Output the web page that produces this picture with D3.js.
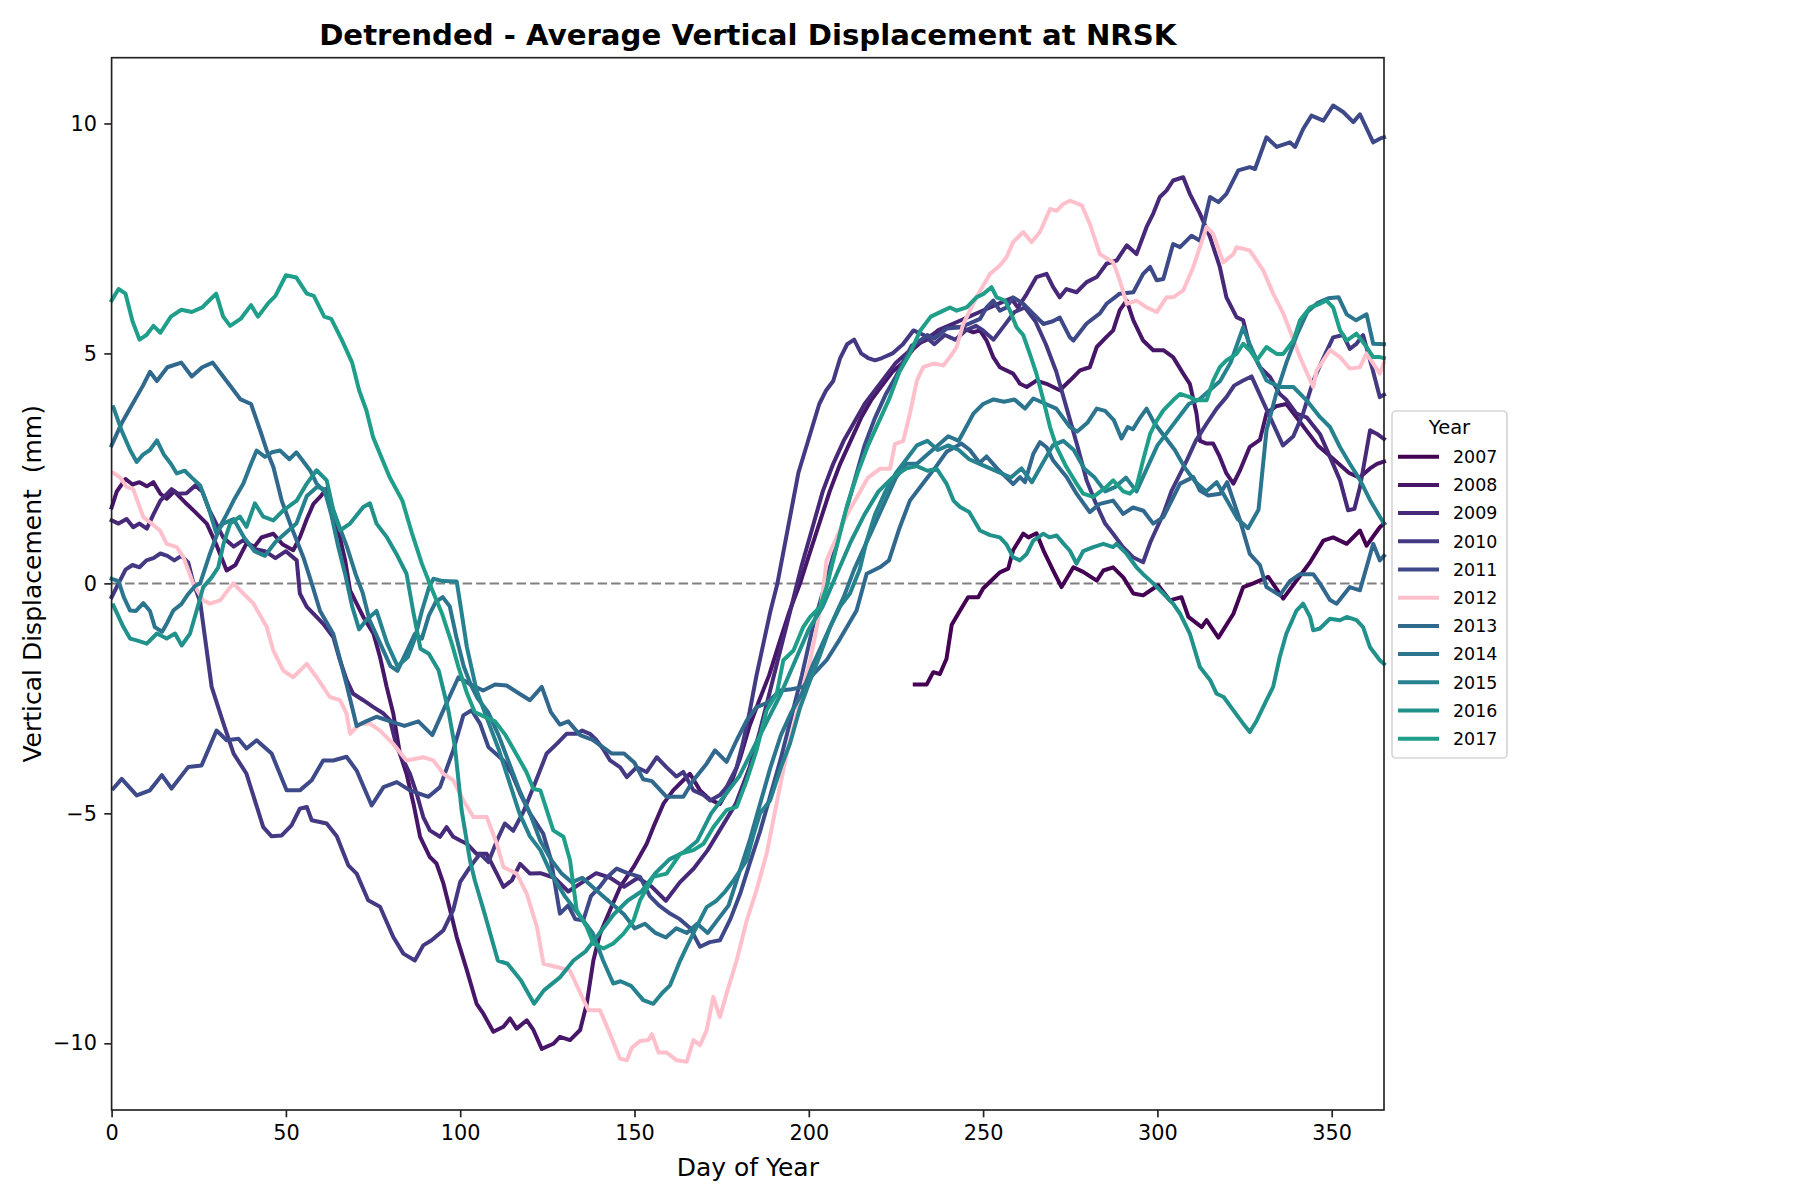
<!DOCTYPE html>
<html lang="en">
<head>
<meta charset="UTF-8">
<script src="https://cdn.jsdelivr.net/npm/d3@7"></script>
<title>Detrended - Average Vertical Displacement at NRSK</title>
<style>
    body { margin: 0; background: white; font-family: "DejaVu Sans", sans-serif; }
    svg { display: block; }
</style>
</head>
<body>
<script>
    // ---------------- data (day of year, mm) ----------------
    const years = ["2007", "2008", "2009", "2010", "2011", "2012", "2013", "2014", "2015", "2016", "2017"];

    const s2007 = [[230.4,-2.2],[233.8,-2.2],[235.7,-1.93],[237.6,-1.97],[239.5,-1.64],[241,-0.9],[243.4,-0.59],[245.7,-0.3],[248.6,-0.3],[250,-0.11],[252.9,0.1],[254.8,0.24],[257.2,0.32],[258.6,0.72],[261.5,1.08],[263,1.0],[265.3,1.09],[267.3,0.72],[270.1,0.28],[272.5,-0.08],[275.9,0.35],[278.7,0.25],[282.6,0.06],[284.5,0.28],[287.3,0.35],[290.2,0.13],[293.1,-0.22],[295.9,-0.26],[300.2,-0.04],[303.6,-0.37],[306.9,-0.3],[308.9,-0.73],[312.7,-0.95],[314.1,-0.8],[317.5,-1.18],[321.8,-0.66],[324.6,-0.08],[327.5,0.0],[331.8,0.14],[336.1,-0.33],[339.9,0.06],[343.8,0.46],[347.6,0.93],[350.4,1.0],[354.3,0.86],[358.1,1.15],[360,0.82],[363.8,1.22],[365,1.3]];

    const s2008 = [[0,1.65],[1.5,2.0],[4,2.27],[6,2.15],[8,2.2],[10.1,2.11],[12,2.2],[14,1.95],[15.8,1.84],[18,2.0],[21.5,1.73],[24,1.55],[27.3,1.3],[30,0.85],[33,0.28],[35.5,0.4],[38.7,0.87],[41,0.8],[43,1.0],[46.4,1.08],[49,0.85],[52.1,0.72],[54,1.0],[56,1.4],[57.9,1.73],[59.8,1.88],[61.7,2.06],[63.5,1.5],[65.5,1.0],[67,0.5],[68.4,-0.15],[70.3,-0.44],[72.2,-0.73],[75.1,-1.09],[77,-1.6],[78.9,-2.25],[80.8,-2.83],[82.7,-3.7],[84.6,-4.14],[86.6,-4.79],[88.5,-5.51],[91.3,-5.95],[93.2,-6.09],[95.2,-6.53],[97.1,-7.1],[99,-7.69],[101.9,-8.41],[104.7,-9.14],[106.6,-9.35],[109.5,-9.75],[112.4,-9.64],[114.3,-9.46],[116.2,-9.68],[119.1,-9.5],[121,-9.71],[123.4,-10.12],[126.7,-10.01],[128.6,-9.86],[131.5,-9.93],[134.4,-9.71],[136.3,-9.14],[138.2,-8.2],[140.1,-7.62],[143,-7.1],[145.9,-6.6],[149.7,-6.17],[153.5,-5.66],[155.4,-5.3],[158.3,-4.79],[161.1,-4.5],[164,-4.28],[165.9,-4.14],[168.8,-4.5],[171.6,-4.7],[174.5,-4.8],[177.4,-4.4],[180.3,-3.8],[183,-3.1],[186,-2.5],[188.6,-2.0],[191.5,-1.3],[194.5,-0.6],[197.5,0.0],[200,0.6],[203,1.3],[206,2.0],[209,2.6],[212,3.1],[215,3.6],[218,4.0],[221,4.3],[224,4.6],[227,4.8],[230,5.1],[233,5.3],[235.7,5.42],[239.5,5.57],[243.4,5.57],[247.2,5.46],[249.1,5.5],[251,5.28],[252.9,4.92],[254.8,4.7],[258.6,4.56],[260.6,4.34],[262.5,4.27],[265.3,4.41],[268.2,4.34],[272,4.2],[274.9,4.41],[277.8,4.63],[280.6,4.7],[282.6,5.14],[285.4,5.36],[287.3,5.5],[289.2,5.94],[291.2,6.15],[293.1,5.72],[295.9,5.28],[298.8,5.07],[301.7,5.07],[304.5,4.92],[307.4,4.56],[309.3,4.34],[311.2,3.7],[312.2,3.1],[314.1,3.04],[316,3.04],[317.9,2.75],[319.8,2.39],[321.8,2.17],[323.7,2.46],[326.5,2.97],[329.4,3.12],[331.3,3.7],[334,3.85],[337,3.9],[340,3.6],[343,3.3],[346,3.0],[349,2.8],[352,2.6],[355,2.4],[358,2.3],[361,2.5],[363,2.6],[365,2.65]];

    const s2009 = [[0,1.37],[2,1.3],[4.3,1.4],[6.2,1.22],[8,1.3],[10.1,1.19],[12,1.5],[14,1.8],[17.2,2.05],[19,1.95],[21.5,1.96],[24,2.13],[26,2.0],[28,1.6],[30,1.3],[32,1.0],[35,0.8],[38,0.95],[41,0.75],[44,0.7],[47,0.55],[50,0.7],[53.1,0.5],[54,-0.22],[56,-0.51],[58.8,-0.73],[60.7,-0.88],[63.6,-1.17],[65.5,-1.67],[67.4,-2.1],[69.3,-2.4],[72.2,-2.54],[75.1,-2.69],[78,-2.83],[79.9,-2.98],[81.8,-3.56],[83.7,-3.85],[85.6,-4.14],[87.5,-4.57],[89.4,-5.08],[91.3,-5.37],[94.2,-5.51],[96.1,-5.3],[98,-5.51],[100,-5.59],[101.9,-5.66],[104.7,-5.88],[107.6,-5.88],[110.5,-6.31],[112.4,-6.6],[114.8,-6.46],[117.2,-6.1],[120,-6.31],[123,-6.3],[127,-6.4],[131,-6.7],[135,-6.5],[139,-6.3],[143,-6.4],[147,-6.6],[151,-6.4],[155,-6.6],[159,-6.9],[163,-6.5],[167,-6.2],[171,-5.8],[175,-5.3],[179,-4.8],[183,-4.0],[186,-3.2],[189,-2.3],[192,-1.4],[195,-0.5],[198,0.4],[201,1.2],[204,2.0],[207,2.6],[210,3.1],[213,3.5],[216,3.9],[219,4.2],[222,4.5],[225,4.8],[228,5.0],[231,5.2],[234,5.3],[237,5.5],[240,5.6],[243,5.7],[246,5.8],[249,5.9],[252,6.0],[255,6.1],[258,6.2],[260,6.0],[262.5,6.29],[265.3,6.66],[268.2,6.73],[270.1,6.44],[272,6.22],[273.9,6.4],[276.8,6.33],[279.7,6.55],[282.6,6.66],[285.4,6.95],[288.3,7.02],[291.2,7.35],[294,7.16],[296.9,7.75],[298.8,8.04],[300.7,8.4],[302.6,8.54],[304.5,8.76],[307.4,8.83],[309.3,8.47],[312.2,8.04],[315.1,7.53],[317.9,6.88],[319.8,6.22],[322.7,5.79],[324.6,5.72],[326.5,5.14],[329.4,4.7],[332.3,4.49],[335.1,4.12],[337.1,3.98],[339.9,3.69],[342.8,3.61],[346.6,3.25],[349.5,2.75],[352.4,2.24],[354.7,1.59],[356.5,1.62],[358.1,2.09],[361,3.33],[363,3.25],[365,3.14]];

    const s2010 = [[0,-0.3],[2,0.0],[4,0.3],[6,0.4],[8,0.35],[10,0.5],[12,0.55],[14,0.65],[16,0.6],[18,0.5],[20,0.6],[22,0.45],[23.5,0.0],[25.4,-0.4],[28.7,-2.25],[32.1,-3.05],[35,-3.7],[38.7,-4.14],[43.5,-5.3],[45.9,-5.5],[48.8,-5.48],[51.6,-5.26],[54,-4.9],[56,-4.86],[57.4,-5.15],[61.7,-5.22],[64.6,-5.5],[67.9,-6.13],[70.3,-6.31],[73.6,-6.89],[77,-7.03],[80.8,-7.69],[83.7,-8.05],[87,-8.2],[89.4,-7.87],[91.8,-7.76],[95.2,-7.54],[98,-7.1],[100,-6.49],[102.8,-6.17],[105.7,-5.88],[108.1,-6.06],[110.5,-5.6],[112.8,-5.22],[115.2,-5.38],[118.1,-4.97],[121,-4.43],[124.8,-3.7],[127.7,-3.49],[130.5,-3.27],[133.4,-3.27],[135,-3.2],[137.2,-3.27],[139,-3.4],[141,-3.6],[143,-3.85],[145.9,-4.0],[147.8,-4.21],[150.6,-4.0],[153.5,-4.1],[156.4,-3.78],[159.2,-4.0],[162,-4.2],[164,-4.1],[166.9,-4.5],[169.8,-4.6],[171.7,-4.72],[174.5,-4.6],[176.4,-4.43],[179.3,-4.0],[181,-3.5],[183,-2.8],[185,-2.0],[187,-1.3],[189,-0.6],[191,0.0],[193,0.8],[195,1.6],[197,2.4],[199,2.9],[201,3.4],[203,3.9],[205,4.2],[207,4.4],[209,4.9],[211,5.2],[213,5.3],[215,5.0],[217,4.9],[219,4.85],[221,4.9],[224,5.0],[227,5.2],[230,5.5],[233,5.4],[236,5.2],[239,5.4],[242,5.3],[245,5.5],[248,5.6],[250,5.5],[253,5.3],[256,5.6],[259,5.9],[262,6.0],[265,5.7],[268,5.2],[271,4.6],[274,3.8],[277,3.0],[279.7,2.24],[282,1.8],[285,1.3],[287.3,1.08],[290,0.8],[293,0.57],[295.9,0.46],[298,0.9],[301.7,1.51],[304,2.0],[308.4,2.67],[311,3.1],[314.1,3.47],[317,3.8],[319.8,4.05],[322,4.3],[324.6,4.41],[327,4.5],[330,4.0],[333,3.5],[336,3.0],[339,3.2],[341.8,3.7],[344.7,4.4],[347.6,4.9],[350.4,5.35],[353.3,5.4],[355.2,5.1],[357,5.2],[359,5.4],[361.9,4.6],[363.8,4.05],[365,4.1]];

    const s2011 = [[0.5,-4.46],[2.9,-4.25],[7.2,-4.61],[11,-4.5],[14.4,-4.17],[17.2,-4.46],[22,-3.99],[25.8,-3.96],[30.1,-3.2],[33,-3.41],[36.4,-3.38],[38.7,-3.59],[41.6,-3.41],[45.9,-3.7],[50.2,-4.5],[54,-4.5],[57.4,-4.28],[60.7,-3.85],[63.6,-3.85],[67.4,-3.77],[70.3,-4.07],[74.6,-4.83],[78,-4.43],[81.8,-4.32],[85.6,-4.5],[90.9,-4.64],[94.2,-4.43],[98,-3.63],[100.9,-2.87],[103.3,-2.76],[105.7,-3.05],[108.1,-3.56],[112.4,-3.85],[114.8,-4.14],[117.2,-4.57],[120,-5.0],[123.8,-5.44],[126,-6.0],[128.6,-7.18],[131,-7.0],[133,-7.3],[135.3,-7.33],[137.5,-6.8],[140,-6.6],[142,-6.4],[144.9,-6.2],[148,-6.3],[151.6,-6.38],[154.4,-6.8],[157,-7.0],[160.2,-7.18],[163,-7.3],[166,-7.5],[168.8,-7.9],[171.6,-7.8],[174.5,-7.76],[177.5,-7.3],[180.3,-6.75],[183,-6.1],[186,-5.4],[189,-4.6],[192,-3.8],[195,-2.9],[198,-2.0],[201,-1.0],[204,-0.2],[207,0.6],[210,1.4],[213,2.2],[216,3.0],[219,3.6],[222,4.1],[225,4.5],[229.5,5.17],[231.9,5.28],[234,5.4],[236,5.32],[239.5,5.54],[243.4,5.57],[246,5.65],[249.1,5.75],[251,6.0],[252.9,6.15],[254.8,5.93],[256.7,6.0],[258.6,6.22],[261.5,6.08],[264.4,5.86],[267.3,5.64],[270,5.7],[272,5.78],[274.9,5.35],[275.9,5.28],[279.7,5.65],[283.5,5.87],[285.4,6.08],[289.2,6.3],[293.1,6.33],[295.9,6.73],[297.9,6.88],[299.8,6.59],[301.7,6.62],[304.5,7.38],[306.5,7.31],[309.8,7.56],[312.2,7.45],[315.1,8.4],[317.5,8.29],[319.8,8.47],[323.2,8.98],[326.5,9.05],[328,9.01],[331.3,9.7],[334.2,9.49],[338,9.59],[339.5,9.49],[341.8,9.88],[344.2,10.17],[347.6,10.06],[350.4,10.39],[353.3,10.25],[356.2,10.03],[358.1,10.2],[361.9,9.59],[363.8,9.67],[365,9.7]];

    const s2012 = [[0.5,2.4],[2.5,2.3],[4.3,2.1],[6.2,2.05],[9.1,1.44],[11,1.33],[13.9,1.15],[15.8,0.86],[18.7,0.79],[20.6,0.57],[23.4,0.0],[26.3,-0.37],[28.2,-0.44],[31.1,-0.37],[34.9,0.0],[37.8,-0.22],[40.7,-0.44],[44.5,-0.95],[46.4,-1.46],[49.3,-1.9],[52.1,-2.04],[56,-1.75],[58.8,-2.04],[62.6,-2.47],[65.5,-2.54],[67.4,-2.83],[68.4,-3.27],[71.3,-3.05],[74.1,-3.05],[77,-3.2],[80.8,-3.49],[84.6,-3.85],[89.4,-3.78],[92.3,-3.85],[95.2,-4.14],[98,-4.28],[100.9,-4.72],[103.8,-5.08],[107.6,-5.08],[110.5,-5.66],[112.4,-6.17],[116.2,-6.31],[119.1,-6.75],[122,-7.47],[123.9,-8.27],[127.7,-8.34],[131.5,-8.42],[134.4,-8.9],[136.8,-9.28],[140.1,-9.28],[143,-9.8],[145.8,-10.33],[147.8,-10.37],[149.2,-10.1],[151.6,-9.95],[154,-9.93],[155,-9.8],[156.9,-10.2],[159.2,-10.2],[162.1,-10.37],[165,-10.4],[166.9,-9.93],[168.8,-10.04],[170.7,-9.72],[172.6,-8.99],[174.5,-9.43],[176.4,-8.92],[179.3,-8.2],[182.2,-7.33],[185,-6.67],[187.9,-5.88],[189.8,-5.15],[191.7,-4.43],[193.7,-3.7],[195.6,-3.12],[198.4,-2.25],[200.4,-1.67],[202.3,-0.95],[203.7,-0.37],[205.1,0.5],[208,1.0],[211,1.5],[214,1.9],[217,2.3],[220.4,2.49],[223.3,2.49],[224.7,3.03],[227.1,3.1],[229,3.69],[231,4.41],[232.8,4.7],[235.7,4.78],[238.6,4.74],[240.5,4.92],[242.4,5.14],[244.3,5.64],[248.1,6.22],[252,6.73],[254.8,6.91],[256.7,7.09],[258.6,7.42],[261.5,7.64],[263.9,7.42],[266.3,7.64],[269.2,8.14],[271.1,8.1],[273,8.25],[274.9,8.32],[278.3,8.22],[280.6,7.82],[283.5,7.16],[287.3,6.98],[289.2,6.59],[291.2,6.08],[294,6.15],[296.9,6.0],[299.8,5.9],[302.6,6.22],[304.5,6.22],[307.4,6.37],[310.3,6.88],[314.1,7.75],[316,7.6],[318.9,6.98],[321.8,7.16],[322.7,7.31],[326.5,7.24],[330.4,6.8],[333.2,6.3],[336.1,5.87],[338,5.5],[340.9,4.92],[344.7,4.27],[345.7,4.63],[349.5,5.07],[352.4,4.92],[355.2,4.67],[358.1,4.7],[360,5.0],[363.8,4.56],[365,4.8]];

    const s2013 = [[0,3.0],[3,3.5],[6,3.9],[9,4.3],[11,4.6],[13,4.4],[16,4.7],[20,4.8],[23,4.5],[26,4.7],[29,4.8],[32,4.5],[35,4.2],[37,4.0],[40,3.9],[42.6,3.33],[44.5,2.89],[46.4,2.53],[48.8,1.8],[51.6,1.22],[55,0.57],[57.4,0.0],[59.8,-0.6],[63.6,-1.1],[67.4,-2.2],[70.3,-3.1],[73,-3.0],[76,-2.9],[80,-3.0],[84,-3.1],[88,-3.0],[92,-3.3],[95.5,-2.7],[99.5,-2.04],[103,-2.2],[106.6,-2.33],[110,-2.2],[113.3,-2.22],[117,-2.4],[120,-2.54],[123.4,-2.25],[126,-2.8],[128.6,-3.07],[131,-3.0],[134.4,-3.3],[138,-3.4],[143.5,-3.7],[147,-3.7],[150,-3.9],[152.5,-4.26],[155,-4.3],[159.2,-4.64],[164,-4.64],[166.9,-4.28],[170.7,-3.92],[173.1,-3.63],[176.4,-3.88],[179.3,-3.41],[182.2,-2.98],[185,-2.69],[188,-2.6],[191.7,-2.33],[195,-2.3],[198.4,-2.25],[201,-2.0],[205.1,-1.67],[209,-1.2],[213.7,-0.59],[216.6,0.21],[220.4,0.35],[223,0.5],[226,1.2],[229,1.8],[233,2.2],[236.6,2.55],[239.5,2.86],[243.8,3.04],[246.2,2.9],[249,2.62],[251,2.76],[254,2.5],[256.7,2.3],[258.6,2.16],[260.6,2.31],[262,2.2],[264.4,2.82],[266.3,3.07],[268.2,2.96],[270.1,2.67],[274,2.31],[276.8,1.95],[280.6,1.55],[283.5,1.73],[287.3,1.8],[290.2,1.51],[293,1.65],[296,1.58],[298.8,1.3],[301.7,1.44],[303.6,1.73],[306.5,2.17],[310.3,2.31],[312.2,2.02],[314.6,1.91],[318,1.95],[320,2.2],[323.7,1.37],[326.5,0.64],[329.4,0.4],[331.3,-0.08],[335.1,-0.26],[338,0.05],[340.9,0.2],[344.7,0.2],[346.6,0.0],[349.5,-0.36],[351.4,-0.44],[355.2,-0.08],[358.1,-0.15],[361.9,0.86],[363.8,0.5],[365,0.6]];

    const s2014 = [[0,0.1],[2,0.05],[3.5,-0.3],[5.3,-0.59],[7,-0.6],[9.1,-0.43],[11,-0.6],[12.4,-0.95],[14.5,-1.05],[16,-0.85],[17.7,-0.59],[20,-0.45],[22,-0.23],[24,-0.05],[25.4,0.0],[28,0.6],[31,1.22],[33,1.5],[35,1.8],[37.8,2.17],[40,2.6],[41.6,2.89],[44,2.75],[46,2.85],[48.3,2.89],[51,2.7],[53,2.85],[55.5,2.6],[57,2.45],[58.8,2.17],[61,2.0],[63.6,1.59],[65.5,1.2],[67.5,0.8],[70,0.2],[72,-0.2],[74,-0.8],[77,-1.3],[80,-1.8],[82,-1.9],[84.5,-1.5],[87,-1.1],[89,-1.2],[91,-0.7],[93,-0.4],[95,-0.3],[97,-0.5],[99,-1.2],[101,-1.8],[103,-2.2],[105,-2.5],[108,-2.8],[111,-3.3],[114,-3.9],[117,-4.5],[120,-5.0],[123,-5.6],[126,-6.0],[129,-6.3],[132,-6.5],[135,-6.4],[138,-6.6],[141,-6.8],[144,-7.0],[147,-7.2],[150,-7.5],[153,-7.4],[156,-7.6],[159,-7.7],[162,-7.5],[165,-7.6],[168,-7.4],[171,-7.6],[174,-7.3],[177,-7.0],[180,-6.3],[183,-5.6],[186,-4.8],[189,-4.0],[192,-3.3],[195,-2.8],[198,-2.4],[201,-1.8],[204,-1.3],[207,-0.8],[210,-0.3],[213,0.3],[216,0.8],[219,1.3],[222,1.8],[225,2.3],[228,2.6],[231,2.6],[234,2.8],[237,3.0],[240,3.2],[243,3.1],[247.2,3.69],[250,3.9],[253,4.0],[256,3.95],[259,4.0],[262,3.8],[264.4,4.02],[268,3.9],[271,3.8],[274.9,3.4],[277,3.3],[280,3.5],[282.6,3.8],[285,3.75],[287.5,3.55],[289.7,3.15],[291.5,3.4],[293,3.35],[295,3.6],[296.9,3.8],[299,3.5],[302,3.2],[305,2.9],[308,2.5],[311,2.2],[314,2.0],[317,2.2],[320,1.8],[323,1.4],[326,1.2],[329,1.6],[331.3,3.33],[334,4.1],[337,4.8],[340,5.4],[343,5.9],[346,6.1],[349,6.2],[352,6.22],[354.3,5.85],[357,5.72],[360,5.85],[361.9,5.21],[365,5.2]];

    const s2015 = [[0.5,3.83],[3,3.3],[5.3,2.9],[7.2,2.64],[9,2.8],[11,2.9],[13,3.11],[15,2.8],[17,2.6],[18.7,2.39],[21,2.45],[23,2.3],[25.4,2.13],[28,1.6],[30,1.1],[32,1.3],[35,1.4],[38,1.0],[41,0.7],[44,0.6],[47,0.9],[50,1.1],[53,1.3],[56,1.9],[59,2.1],[61,2.05],[63,1.5],[65,0.8],[67,0.2],[69,-0.5],[71,-1.0],[73,-0.8],[76,-0.6],[79,-1.3],[82,-1.8],[85,-1.6],[87,-1.2],[89,-0.6],[91,-0.1],[92.3,0.1],[95,0.05],[99,0.04],[100,-0.44],[101.9,-1.38],[104.7,-2.33],[108,-3.0],[111,-3.6],[114,-4.3],[117,-5.0],[120,-5.5],[123,-5.8],[126,-6.3],[130,-6.8],[134,-7.2],[138,-7.6],[141,-8.2],[143.9,-8.7],[146,-8.65],[149,-8.75],[152.5,-9.06],[155.4,-9.14],[158,-8.9],[160.2,-8.74],[163.1,-8.2],[165,-7.9],[167.8,-7.47],[170.7,-7.04],[173.5,-6.9],[176,-6.7],[178.4,-6.46],[182.2,-6.02],[184,-5.5],[186,-5.0],[188.9,-4.72],[192,-4.0],[194.6,-3.48],[197.5,-2.7],[200.4,-2.1],[203,-1.6],[206.1,-0.95],[209,-0.5],[211.8,-0.22],[214.6,0.3],[216.5,0.9],[219,1.5],[222,2.0],[225,2.4],[228,2.7],[231,3.0],[234,3.1],[237,2.9],[240,3.0],[243,2.9],[246,2.7],[249,2.6],[252,2.5],[255,2.4],[258,2.3],[261,2.5],[264,2.2],[267,2.6],[270,3.0],[273,3.1],[276,2.9],[279,2.5],[282,2.3],[285,2.0],[288,2.1],[291,2.3],[294,2.0],[297,2.5],[300,3.0],[303,3.3],[306,3.6],[309,3.9],[312,4.0],[315,4.2],[318,4.4],[321,4.8],[324.6,5.57],[326.5,5.2],[328.5,4.85],[331.3,4.41],[335.1,4.27],[339,4.27],[342.8,3.98],[346.6,3.62],[349.5,3.4],[352.4,2.96],[355.2,2.6],[358.1,2.25],[361,1.81],[363.8,1.45],[365,1.3]];

    const s2016 = [[0.5,-0.48],[3.4,-0.95],[5.3,-1.2],[7.2,-1.24],[10.1,-1.31],[13,-1.09],[15.8,-1.2],[18.2,-1.09],[20.1,-1.35],[22.5,-1.09],[24.4,-0.59],[26.3,-0.08],[28.7,0.13],[30.6,0.35],[32.1,0.86],[34,1.3],[36.8,1.45],[38.7,1.23],[41.1,1.74],[43.5,1.45],[46.4,1.37],[49.3,1.59],[53.1,1.8],[56,2.17],[58.8,2.46],[61.7,2.24],[63.6,1.59],[65.5,1.15],[68.4,1.3],[72.2,1.66],[74.1,1.74],[76,1.3],[79,1.0],[82,0.6],[84.6,0.21],[86.5,-0.6],[88.6,-1.42],[91,-1.53],[93.8,-1.89],[96.6,-2.76],[98.5,-3.56],[100.4,-4.93],[102.8,-6.02],[104.2,-6.46],[107,-7.18],[110.8,-8.2],[113.6,-8.27],[117.4,-8.63],[121.2,-9.14],[124,-8.85],[128.7,-8.56],[132.5,-8.2],[136,-8.0],[140,-7.6],[144,-7.2],[148,-6.9],[152,-6.7],[156,-6.3],[160,-6.0],[164,-5.85],[168,-5.6],[172,-5.0],[176,-4.6],[180,-4.2],[184,-3.6],[188,-3.0],[192,-2.4],[196,-1.7],[200,-1.0],[204,-0.5],[208,0.2],[212,0.9],[216,1.5],[220,2.0],[224,2.3],[228,2.5],[231,2.55],[234,2.45],[236.7,2.49],[239.5,2.17],[241.5,1.8],[243.4,1.66],[246,1.55],[249.1,1.15],[252,1.05],[254.8,1.0],[256.7,0.85],[258.6,0.57],[260.5,0.5],[262.5,0.64],[264.4,0.93],[267.3,1.08],[269,1.0],[271.1,1.04],[273,0.87],[274.9,0.71],[276.8,0.43],[278.7,0.7],[281.6,0.79],[284.5,0.86],[287.3,0.79],[288.3,0.86],[291.2,0.64],[294,0.35],[295.9,0.2],[298.8,0.0],[301.7,-0.22],[304.5,-0.44],[306.5,-0.66],[309.3,-1.09],[312.2,-1.82],[315.1,-2.1],[317,-2.4],[319,-2.47],[321.8,-2.76],[324.6,-3.05],[326.5,-3.23],[328.5,-2.98],[331.3,-2.54],[333.2,-2.25],[335.1,-1.6],[337,-1.09],[339.9,-0.59],[341.8,-0.44],[343.8,-0.73],[344.7,-1.02],[346.6,-0.98],[349.5,-0.77],[352.4,-0.8],[354.3,-0.73],[357.1,-0.8],[359,-0.95],[361,-1.39],[363.8,-1.67],[365,-1.75]];

    const s2017 = [[0,6.15],[2,6.4],[4,6.3],[6,5.7],[8,5.3],[10,5.4],[12,5.6],[14,5.45],[17,5.8],[20,5.95],[23,5.9],[26,6.0],[28,6.15],[30,6.3],[32,5.8],[34,5.6],[37,5.75],[40,6.05],[42,5.8],[45,6.1],[47,6.25],[50,6.7],[53,6.65],[56,6.3],[58,6.25],[61,5.8],[63,5.75],[66,5.3],[69,4.8],[71,4.2],[73.1,3.76],[75,3.18],[79.7,2.32],[83.4,1.8],[86.2,1.08],[89,0.43],[92,-0.15],[94.8,-0.66],[97.6,-1.31],[99.5,-1.82],[102,-2.4],[104.2,-2.8],[107,-2.9],[110,-3.0],[113,-3.3],[116,-3.7],[119,-4.1],[121,-4.47],[123,-4.5],[126.7,-5.37],[129.6,-5.51],[131.5,-6.02],[133.4,-7.1],[136.3,-7.47],[138.2,-7.83],[141.1,-7.94],[143.9,-7.83],[146.8,-7.62],[149.7,-7.33],[151.6,-6.89],[155.4,-6.38],[159.2,-6.31],[163.1,-5.88],[166.9,-5.8],[169.8,-5.66],[172.6,-5.3],[176.4,-4.93],[179.3,-4.86],[182.2,-4.28],[185,-3.63],[187.9,-2.76],[190.8,-2.4],[192.7,-1.67],[195.6,-1.46],[198.4,-0.95],[200.4,-0.73],[203.2,-0.51],[205.1,-0.08],[208,0.8],[211,1.7],[214,2.4],[217,3.0],[220,3.5],[223,4.0],[226,4.6],[229,5.0],[232,5.5],[235,5.8],[238.6,5.93],[240.5,6.0],[242.4,5.93],[245.3,6.0],[248.1,6.22],[250,6.29],[252.4,6.44],[253.9,6.22],[256.3,6.15],[257.7,5.93],[259.6,5.57],[261.5,5.4],[263.4,4.99],[265.3,4.56],[267.3,3.98],[269.2,3.4],[271.1,2.96],[273.9,2.53],[276.8,2.17],[278.7,1.95],[281.6,1.88],[285.4,2.1],[287.3,2.24],[290.2,2.0],[292.1,1.95],[294,2.1],[295.9,2.68],[297.9,3.25],[299.8,3.54],[301.7,3.76],[304.5,3.98],[306.5,4.12],[309.3,4.05],[311.2,3.98],[314.1,3.98],[316,4.41],[317.9,4.7],[319.8,4.85],[322.7,4.99],[324.6,5.21],[326.5,5.07],[328.5,4.85],[331.3,5.14],[334.2,4.99],[336.1,4.99],[339,5.28],[340.9,5.72],[343.8,6.0],[346.6,6.08],[348.5,6.15],[350.4,6.0],[352.4,5.5],[354.3,5.28],[357.1,5.43],[360,5.14],[361.9,4.92],[363.8,4.92],[365,4.9]];

    const yTicks = [-10, -5, 0, 5, 10];
    const xTicks = [0, 50, 100, 150, 200, 250, 300, 350];

    const seriesData = [s2007, s2008, s2009, s2010, s2011, s2012, s2013, s2014, s2015, s2016, s2017];

    // ---------------- layout ----------------
    const W = 1800, H = 1200;
    const plot = { left: 111.6, right: 1384, top: 57.7, bottom: 1110 };

    const svg = d3.select("body").append("svg")
        .attr("width", W)
        .attr("height", H)
        .style("font-family", "'DejaVu Sans', sans-serif");

    const x = d3.scaleLinear().domain([0, 365]).range([plot.left, plot.right]);
    const y = d3.scaleLinear().domain([-11.45, 11.43]).range([plot.bottom, plot.top]);

    // viridis palette, with 2012 pulled out in pink
    const colors = years.map((yr, i) => yr === "2012" ? "pink" : d3.interpolateViridis(i / 18));

    // zero reference line
    svg.append("line")
        .attr("x1", x(0)).attr("x2", x(365))
        .attr("y1", y(0)).attr("y2", y(0))
        .attr("stroke", "gray")
        .attr("stroke-width", 2)
        .attr("stroke-dasharray", "9.5,4");

    const line = d3.line()
        .x(d => x(d[0]))
        .y(d => y(d[1]));

    svg.append("g")
        .selectAll("path")
        .data(seriesData)
        .enter()
        .append("path")
        .attr("d", d => line(d))
        .attr("fill", "none")
        .attr("stroke", (d, i) => colors[i])
        .attr("stroke-width", 4)
        .attr("stroke-linejoin", "round")
        .attr("stroke-linecap", "square");

    // ---------------- axes ----------------
    const xAxis = svg.append("g")
        .attr("transform", `translate(0,${plot.bottom})`)
        .call(d3.axisBottom(x).tickValues(xTicks).tickSize(7.3).tickPadding(8).tickFormat(d3.format("d")));

    const yAxis = svg.append("g")
        .attr("transform", `translate(${plot.left},0)`)
        .call(d3.axisLeft(y).tickValues(yTicks).tickSize(7.3).tickPadding(7.3)
            .tickFormat(d => d < 0 ? "\u2212" + Math.abs(d) : d));

    [xAxis, yAxis].forEach(g => {
        g.select(".domain").remove();
        g.selectAll(".tick line").attr("stroke", "#222").attr("stroke-width", 1.67);
        g.selectAll(".tick text")
            .attr("fill", "black")
            .style("font-size", "20.8px")
            .style("font-family", "'DejaVu Sans', sans-serif");
    });

    // frame
    svg.append("rect")
        .attr("x", plot.left).attr("y", plot.top)
        .attr("width", plot.right - plot.left)
        .attr("height", plot.bottom - plot.top)
        .attr("fill", "none")
        .attr("stroke", "#222")
        .attr("stroke-width", 1.67);

    // ---------------- texts ----------------
    svg.append("text")
        .attr("x", (plot.left + plot.right) / 2)
        .attr("y", 45)
        .attr("text-anchor", "middle")
        .style("font-size", "29.2px")
        .style("font-weight", "bold")
        .text("Detrended - Average Vertical Displacement at NRSK");

    svg.append("text")
        .attr("x", (plot.left + plot.right) / 2)
        .attr("y", 1176)
        .attr("text-anchor", "middle")
        .style("font-size", "25px")
        .text("Day of Year");

    svg.append("text")
        .attr("transform", `translate(41,${(plot.top + plot.bottom) / 2}) rotate(-90)`)
        .attr("text-anchor", "middle")
        .style("font-size", "25px")
        .style("white-space", "pre")
        .attr("xml:space", "preserve")
        .text("Vertical Displacement  (mm)");

    // ---------------- legend ----------------
    const lg = svg.append("g").attr("transform", "translate(1392,411)");
    lg.append("rect")
        .attr("width", 115).attr("height", 347)
        .attr("rx", 4)
        .attr("fill", "white")
        .attr("fill-opacity", 0.8)
        .attr("stroke", "#d6d6d6")
        .attr("stroke-width", 1.67);

    lg.append("text")
        .attr("x", 57.5).attr("y", 23)
        .attr("text-anchor", "middle")
        .style("font-size", "19.5px")
        .text("Year");

    const entry = lg.selectAll("g.entry")
        .data(years)
        .enter()
        .append("g")
        .attr("class", "entry")
        .attr("transform", (d, i) => `translate(0,${45.7 + i * 28.2})`);

    entry.append("line")
        .attr("x1", 6).attr("x2", 47)
        .attr("stroke", (d, i) => colors[i])
        .attr("stroke-width", 4);

    entry.append("text")
        .attr("x", 61).attr("y", 6.3)
        .style("font-size", "17.4px")
        .text(d => d);
</script>
</body>
</html>
